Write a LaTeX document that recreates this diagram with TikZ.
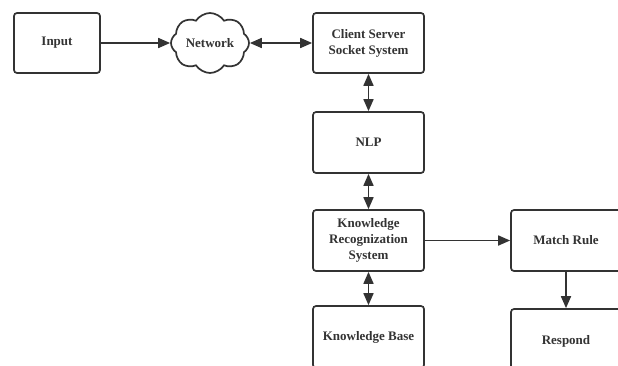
\documentclass[tikz,border=0pt]{standalone}
\usepackage{fontspec}
\setmainfont{Liberation Serif}
\usetikzlibrary{arrows.meta,shapes.symbols}
\definecolor{ink}{HTML}{333333}
\begin{document}
\begin{tikzpicture}[x=1pt,y=-1pt,
  lbl/.style={font=\fontsize{13}{16}\selectfont\bfseries, text=ink, align=center},
  box/.style={lbl, draw=ink, line width=1.7pt, rounded corners=3pt, fill=white, inner sep=0pt},
  tip/.tip={Triangle[length=12pt,width=10pt]},
  link/.style={draw=ink, line width=1.7pt, -tip},
  both/.style={draw=ink, line width=1.7pt, tip-tip}]
\useasboundingbox (0,0) rectangle (618,365);
\clip (0,0) rectangle (618,365);
\node[box, minimum width=86pt, minimum height=60pt] (input) at (57,43) {Input};
\node[cloud, draw=ink, line width=1.7pt, fill=white, cloud puffs=8, cloud puff arc=115, aspect=1.35, minimum width=78pt, minimum height=60pt, inner sep=0pt,
  label={[lbl]center:Network}] (net) at (210,43) {};
\node[box, minimum width=111pt, minimum height=60pt] (client) at (368.5,43) {Client Server\\Socket System};
\node[box, minimum width=111pt, minimum height=61pt] (nlp) at (368.5,142.5) {NLP};
\node[box, minimum width=111pt, minimum height=61pt] (krs) at (368.5,240.5) {Knowledge\\Recognization\\System};
\node[box, minimum width=111pt, minimum height=62pt] (kb) at (368.5,337) {Knowledge Base};
\node[box, minimum width=110pt, minimum height=61pt] (match) at (566,240.5) {Match Rule};
\node[box, minimum width=110pt, minimum height=64pt] (respond) at (566,341) {Respond};
\draw[link] (input.east) -- (input.east -| net.west);
\draw[both] (net.east) -- (client.west);
\draw[both] (client) -- (nlp);
\draw[both] (nlp) -- (krs);
\draw[both] (krs) -- (kb);
\draw[link] (krs) -- (match);
\draw[link] (match) -- (respond);
\end{tikzpicture}
\end{document}
